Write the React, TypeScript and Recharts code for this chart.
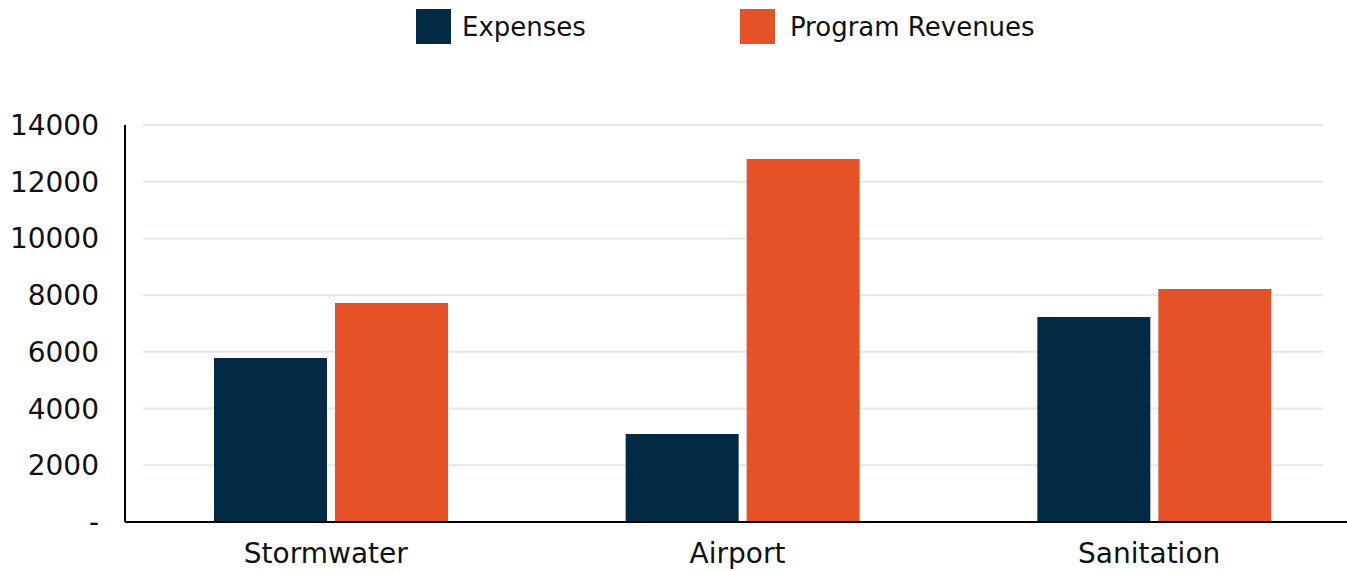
import React from 'react';
import { BarChart, Bar, XAxis, YAxis, CartesianGrid, Legend } from 'recharts';

const categories = ['Stormwater', 'Airport', 'Sanitation'];
const expenses = [5780, 3100, 7230];
const programRevenues = [7720, 12800, 8215];
const yTicks = [0, 2000, 4000, 6000, 8000, 10000, 12000, 14000];

const NAVY = '#032a44';
const ORANGE = '#e55227';
const FONT = '"DejaVu Sans", sans-serif';

const data = categories.map((name, i) => ({
  name,
  expenses: expenses[i],
  revenues: programRevenues[i],
}));

// grid lines in the original stop short of the axes on both sides
const GridLine = (props: any) => {
  const { x1, x2, y1, y2, index } = props;
  return (
    <line
      key={`h-${index}`}
      x1={x1 + 18}
      x2={x2 - 37}
      y1={y1}
      y2={y2}
      stroke="#e4e7eb"
      strokeWidth={2}
    />
  );
};

const LegendContent = (props: any) => {
  const { payload } = props;
  return (
    <div style={{ display: 'flex', alignItems: 'center', fontFamily: FONT, fontSize: 26, color: '#111' }}>
      {(payload || []).map((entry: any, i: number) => (
        <div key={`leg-${i}`} style={{ display: 'flex', alignItems: 'center', marginRight: i === 0 ? 154 : 0 }}>
          <div style={{ width: 35, height: 35, background: entry.color, marginRight: i === 0 ? 11 : 15 }} />
          <span>{entry.value}</span>
        </div>
      ))}
    </div>
  );
};

export default function App() {
  return (
    <div style={{ position: 'absolute', left: 0, top: 0, width: 1347, height: 571, overflow: 'hidden', background: '#fff' }}>
      <BarChart
        width={1360}
        height={571}
        data={data}
        margin={{ top: 125, right: 0, left: 0, bottom: 0 }}
        barSize={113}
        barGap={8}
      >
        <CartesianGrid vertical={false} horizontal={GridLine} />
        <XAxis
          dataKey="name"
          height={49}
          axisLine={{ stroke: '#000', strokeWidth: 2 }}
          tickLine={false}
          tickSize={0}
          tickMargin={21}
          tick={{ fontSize: 28, fill: '#111', fontFamily: FONT, dx: -5 }}
        />
        <YAxis
          width={125}
          domain={[0, 14000]}
          ticks={yTicks}
          interval={0}
          axisLine={{ stroke: '#000', strokeWidth: 2 }}
          tickLine={false}
          tickSize={0}
          tickMargin={26}
          tick={{ fontSize: 28, fill: '#111', fontFamily: FONT }}
          tickFormatter={(v: number) => (v === 0 ? '-' : String(v))}
        />
        <Legend
          layout="vertical"
          align="center"
          verticalAlign="middle"
          wrapperStyle={{ top: 9, left: 416, width: 700, height: 36 }}
          content={LegendContent}
        />
        <Bar dataKey="expenses" name="Expenses" fill={NAVY} isAnimationActive={false} />
        <Bar dataKey="revenues" name="Program Revenues" fill={ORANGE} isAnimationActive={false} />
      </BarChart>
    </div>
  );
}
